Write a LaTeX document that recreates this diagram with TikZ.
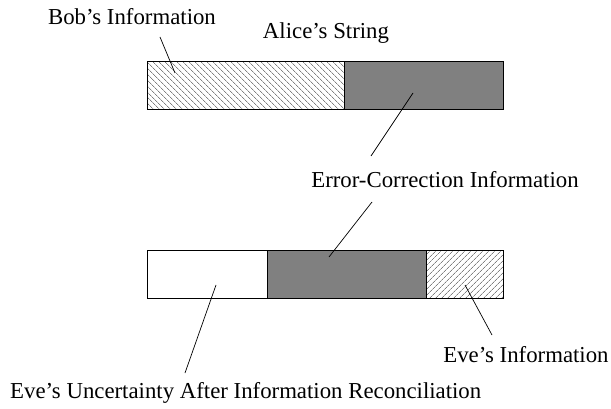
\documentclass[tikz,border=0pt]{standalone}
\usepackage{fontspec}
\setmainfont{Liberation Serif}
\usetikzlibrary{patterns.meta}
\begin{document}
\begin{tikzpicture}[x=1pt,y=-1pt,
  seg/.style={draw=black,line width=0.8pt,minimum height=47.5pt,
    inner sep=0pt,outer sep=0pt,anchor=north west},
  solidseg/.style={seg,fill=gray},
  backhatch/.style={seg,pattern={Lines[angle=-45,distance=4pt,line width=0.7pt]},pattern color=gray},
  fwdhatch/.style={seg,pattern={Lines[angle=45,distance=4pt,line width=0.7pt]},pattern color=gray},
  lbl/.style={font=\fontsize{22.8}{26}\selectfont,inner sep=0pt},
  leader/.style={draw=black,line width=0.7pt}]
  \useasboundingbox (0,0) rectangle (611,409);

  % Alice's string
  \node[backhatch,minimum width=197pt] (bob) at (147,61.5) {};
  \node[solidseg,minimum width=159pt] (ec1) at (344,61.5) {};

  % String after reconciliation
  \node[seg,fill=white,minimum width=120pt] (unc) at (147,250.5) {};
  \node[solidseg,minimum width=159pt] (ec2) at (267,250.5) {};
  \node[fwdhatch,minimum width=77pt] (eve) at (426,250.5) {};

  % labels
  \node[lbl] (bobl) at (132,17) {Bob’s Information};
  \node[lbl] (alicel) at (326,33) {Alice’s String};
  \node[lbl] (ecl) at (445,180) {Error-Correction Information};
  \node[lbl] (evel) at (526,355) {Eve’s Information};
  \node[lbl,anchor=west] (uncl) at (10,393)
    {Eve’s Uncertainty After Information Reconciliation};

  % leader end points
  \coordinate (bobA) at (160,37);   \coordinate (bobB) at (175,73);
  \coordinate (ecA) at (413,93);    \coordinate (ecB) at (371,156);
  \coordinate (ecC) at (372,202);   \coordinate (ecD) at (329,257);
  \coordinate (uncA) at (216,285);  \coordinate (uncB) at (185,373);
  \coordinate (eveA) at (465,285);  \coordinate (eveB) at (492,335);

  \draw[leader] (bobA) -- (bobB);
  \draw[leader] (ecA) -- (ecB);
  \draw[leader] (ecC) -- (ecD);
  \draw[leader] (uncA) -- (uncB);
  \draw[leader] (eveA) -- (eveB);
\end{tikzpicture}
\end{document}
